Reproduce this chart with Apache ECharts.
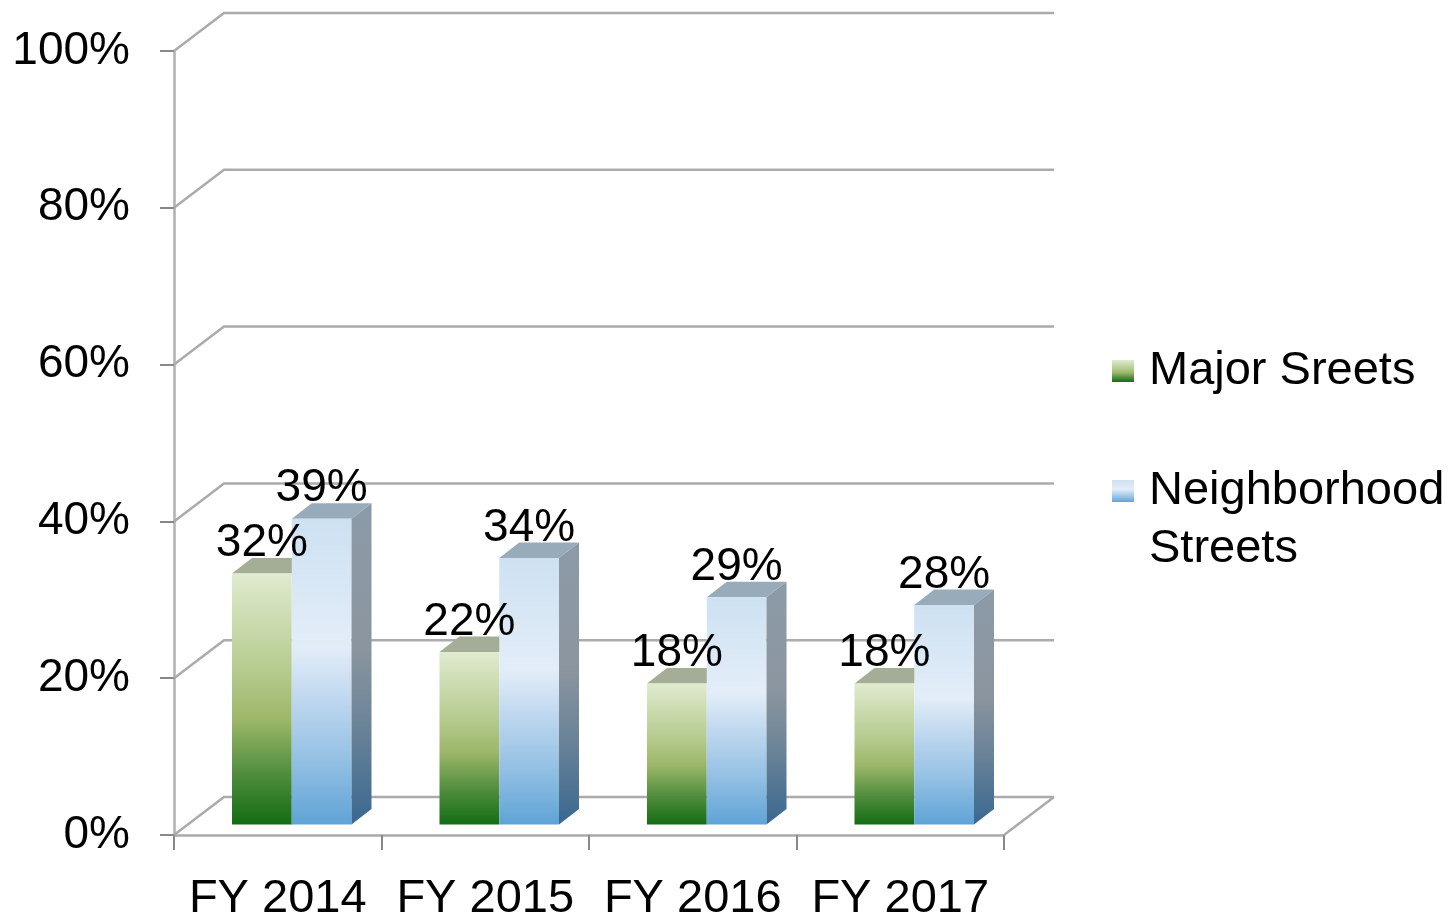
<!DOCTYPE html>
<html>
<head>
<meta charset="utf-8">
<script src="https://cdn.jsdelivr.net/npm/echarts@6/dist/echarts.min.js"></script>
<style>
  html, body { margin: 0; padding: 0; background: #fff; }
  #chart { width: 1455px; height: 923px; }
</style>
</head>
<body>
<div id="chart"></div>
<script>
// data
const categories = ['FY 2014', 'FY 2015', 'FY 2016', 'FY 2017']
const majorStreets = [0.32, 0.22, 0.18, 0.18]
const neighborhoodStreets = [0.39, 0.34, 0.29, 0.28]
const yTicks = [0, 0.2, 0.4, 0.6, 0.8, 1]

const FONT = '"Liberation Sans", Arial, sans-serif'
const WALL = [50, -38]        // back wall offset
const BAR_SHIFT = [14, -10.5] // bars sit a bit inside the floor
const BAR_DEPTH = [20, -15.5]
const BAR_RATIO = 0.288       // one bar width / category band

const grad = (stops) => new echarts.graphic.LinearGradient(0, 0, 0, 1,
  stops.map(([offset, color]) => ({ offset, color })))

const greenFront = grad([[0, '#e0ebcf'], [0.4, '#b3ca8c'], [0.58, '#9db769'], [0.8, '#4f8d3d'], [1, '#146d12']])
const blueFront = grad([[0, '#cde1f2'], [0.42, '#e3edf8'], [0.6, '#bcd6ee'], [0.8, '#91bfe3'], [1, '#5fa3d6']])
const blueSide = grad([[0, '#8c9ba8'], [0.45, '#8b959f'], [0.7, '#6a8398'], [1, '#3a6890']])
const greenTop = '#a4ae96'
const blueTop = '#98abbb'

const wallRender = (params, api) => {
  const cs = params.coordSys
  const v = api.value(1)
  const y = api.coord([0, v])[1]
  const x = cs.x
  const [dx, dy] = WALL
  const style = { stroke: '#ababab', lineWidth: 2.5, fill: null }
  const children = [{
    type: 'polyline',
    shape: { points: [[x, y], [x + dx, y + dy], [x + cs.width + dx, y + dy]] },
    style
  }]
  if (v === 0) {
    children.push({
      type: 'polyline',
      shape: { points: [[x + cs.width, y], [x + cs.width + dx, y + dy]] },
      style
    })
  }
  return { type: 'group', children }
}

const barRender = (left, front, topColor, side) => (params, api) => {
  const idx = api.value(0)
  const base = api.coord([idx, 0])
  const top = api.coord([idx, api.value(1)])
  const w = api.size([1, 0])[0] * BAR_RATIO
  const x0 = base[0] + BAR_SHIFT[0] - (left ? w : 0)
  const y0 = base[1] + BAR_SHIFT[1]
  const y1 = top[1] + BAR_SHIFT[1]
  const [dx, dy] = BAR_DEPTH
  const children = [
    { type: 'polygon', shape: { points: [[x0, y1], [x0 + w, y1], [x0 + w + dx, y1 + dy], [x0 + dx, y1 + dy]] }, style: { fill: topColor } },
    { type: 'rect', shape: { x: x0, y: y1, width: w, height: y0 - y1 }, style: { fill: front } }
  ]
  if (side) {
    children.push({ type: 'polygon', shape: { points: [[x0 + w, y1], [x0 + w + dx, y1 + dy], [x0 + w + dx, y0 + dy], [x0 + w, y0]] }, style: { fill: side } })
  }
  return { type: 'group', children }
}

const labelRender = (params, api) => {
  const idx = api.value(0)
  const base = api.coord([idx, 0])
  const w = api.size([1, 0])[0] * BAR_RATIO
  const vals = [api.value(1), api.value(2)]
  const xs = [base[0] + BAR_SHIFT[0] - w / 2, base[0] + BAR_SHIFT[0] + w / 2]
  return {
    type: 'group',
    children: vals.map((v, k) => ({
      type: 'text',
      style: {
        text: Math.round(v * 100) + '%',
        x: xs[k],
        y: api.coord([idx, v])[1] + BAR_SHIFT[1] - 30,
        align: 'center',
        verticalAlign: 'middle',
        fontSize: 46,
        fontFamily: FONT,
        fill: '#000'
      }
    }))
  }
}

const chart = echarts.init(document.getElementById('chart'))

chart.setOption({
  animation: false,
  backgroundColor: '#fff',
  textStyle: { fontFamily: FONT, color: '#000' },
  grid: { left: 174, top: 51, width: 830, height: 791 },
  legend: [
    {
      data: ['Major Sreets'],
      left: 1112,
      top: 345,
      padding: 0,
      icon: 'rect',
      itemWidth: 22,
      itemHeight: 22,
      selectedMode: false,
      textStyle: { fontSize: 47, fontFamily: FONT, color: '#000', lineHeight: 52, padding: [0, 0, 0, 10] }
    },
    {
      data: ['Neighborhood Streets'],
      // leading blank line keeps the icon level with the first text line
      formatter: () => '\nNeighborhood\nStreets',
      left: 1112,
      top: 404,
      padding: 0,
      icon: 'rect',
      itemWidth: 22,
      itemHeight: 22,
      selectedMode: false,
      textStyle: { fontSize: 47, fontFamily: FONT, color: '#000', lineHeight: 58, padding: [0, 0, 0, 10] }
    }
  ],
  xAxis: {
    type: 'category',
    data: categories,
    axisLine: { lineStyle: { color: '#ababab', width: 2.5 } },
    axisTick: { show: true, interval: 0, length: 15, lineStyle: { color: '#888', width: 2 } },
    axisLabel: { interval: 0, fontSize: 47, fontFamily: FONT, color: '#000', margin: 41 },
    splitLine: { show: false }
  },
  yAxis: {
    type: 'value',
    min: 0,
    max: 1,
    interval: 0.2,
    axisLine: { show: true, lineStyle: { color: '#b0b0b0', width: 2.5 } },
    axisTick: { show: true, length: 14, lineStyle: { color: '#888', width: 2 } },
    axisLabel: {
      fontSize: 46, fontFamily: FONT, color: '#000', margin: 44,
      formatter: v => Math.round(v * 100) + '%'
    },
    splitLine: { show: false }
  },
  series: [
    {
      type: 'custom',
      name: 'walls',
      silent: true,
      z: 1,
      renderItem: wallRender,
      encode: { x: 0, y: 1 },
      data: yTicks.map(v => [0, v])
    },
    {
      type: 'custom',
      name: 'Major Sreets',
      silent: true,
      z: 2,
      itemStyle: { color: greenFront },
      renderItem: barRender(true, greenFront, greenTop, null),
      encode: { x: 0, y: 1 },
      data: majorStreets.map((v, i) => [i, v])
    },
    {
      type: 'custom',
      name: 'Neighborhood Streets',
      silent: true,
      z: 3,
      itemStyle: { color: blueFront },
      renderItem: barRender(false, blueFront, blueTop, blueSide),
      encode: { x: 0, y: 1 },
      data: neighborhoodStreets.map((v, i) => [i, v])
    },
    {
      type: 'custom',
      name: 'labels',
      silent: true,
      z: 10,
      renderItem: labelRender,
      encode: { x: 0, y: 2 },
      data: categories.map((c, i) => [i, majorStreets[i], neighborhoodStreets[i]])
    }
  ]
})
</script>
</body>
</html>
